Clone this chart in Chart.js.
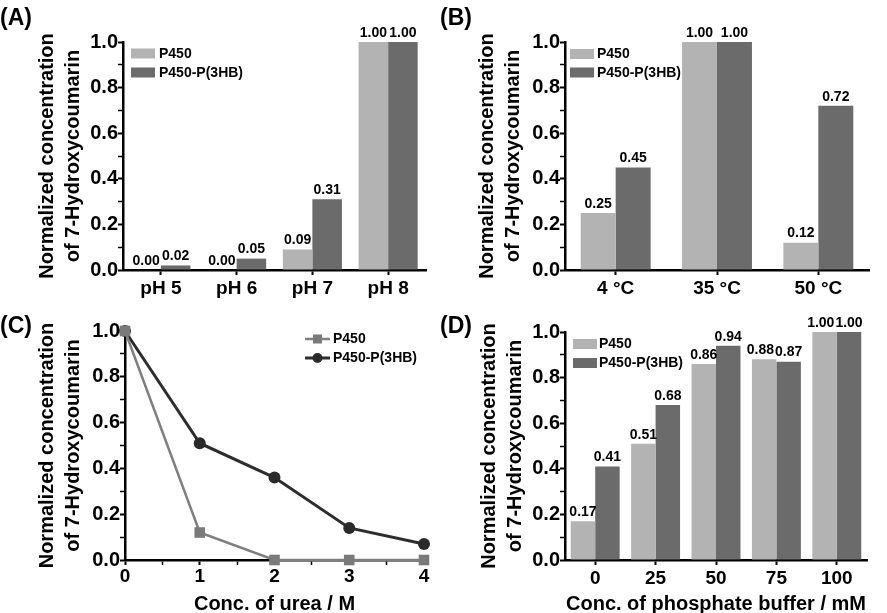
<!DOCTYPE html>
<html><head><meta charset="utf-8">
<script src="https://cdn.jsdelivr.net/npm/chart.js@4.4.1/dist/chart.umd.min.js"></script>
<style>
html,body{margin:0;padding:0;background:#fff;overflow:hidden;}
#wrap{position:relative;width:887px;height:613px;overflow:hidden;background:#fff;}
canvas{position:absolute;}
.lbl{position:absolute;font:bold 23px "Liberation Sans",Arial,sans-serif;line-height:23px;color:#000;white-space:nowrap;}
</style></head><body>
<div id="wrap">
<canvas id="cA" width="443" height="306" style="left:0;top:0"></canvas>
<canvas id="cB" width="444" height="306" style="left:443px;top:0"></canvas>
<canvas id="cC" width="443" height="310" style="left:0;top:306px"></canvas>
<canvas id="cD" width="444" height="310" style="left:443px;top:306px"></canvas>
<div class="lbl" style="left:0;top:6px">(A)</div>
<div class="lbl" style="left:440px;top:6px">(B)</div>
<div class="lbl" style="left:0;top:314px">(C)</div>
<div class="lbl" style="left:440px;top:314px">(D)</div>
</div>
<script>
// ---- data ----
const phCategories = ['pH 5', 'pH 6', 'pH 7', 'pH 8'];
const phP450 = [0.00, 0.00, 0.09, 1.00];
const phP3HB = [0.02, 0.05, 0.31, 1.00];

const tempCategories = ['4 °C', '35 °C', '50 °C'];
const tempP450 = [0.25, 1.00, 0.12];
const tempP3HB = [0.45, 1.00, 0.72];

const ureaConc = [0, 1, 2, 3, 4];
const ureaP450 = [1.00, 0.12, 0.00, 0.00, 0.00];
const ureaP3HB = [1.00, 0.51, 0.36, 0.14, 0.07];

const bufferCategories = ['0', '25', '50', '75', '100'];
const bufferP450 = [0.17, 0.51, 0.86, 0.88, 1.00];
const bufferP3HB = [0.41, 0.68, 0.94, 0.87, 1.00];

const seriesNames = ['P450', 'P450-P(3HB)'];
const yTitle = ['Normalized concentration', 'of 7-Hydroxycoumarin'];
const ureaTitle = 'Conc. of urea / M';
const bufferTitle = 'Conc. of phosphate buffer / mM';

// ---- styling ----
const FF = "'Liberation Sans', Arial, Helvetica, sans-serif";
const LIGHT = '#b3b3b3';
const DARK = '#6b6b6b';
const LINE1 = '#7f7f7f';
const LINE2 = '#2d2d2d';

const valueLabels = {
  id: 'valueLabels',
  afterDatasetsDraw(chart, args, opts) {
    const ctx = chart.ctx;
    ctx.save();
    ctx.font = 'bold ' + (opts.size || 14) + 'px ' + FF;
    ctx.fillStyle = '#000';
    ctx.textAlign = 'center';
    ctx.textBaseline = 'bottom';
    const m0 = chart.getDatasetMeta(0), m1 = chart.getDatasetMeta(1);
    const d0 = chart.data.datasets[0].data, d1 = chart.data.datasets[1].data;
    m0.data.forEach((el0, i) => {
      const el1 = m1.data[i];
      const t0 = d0[i].toFixed(2), t1 = d1[i].toFixed(2);
      const w0 = ctx.measureText(t0).width, w1 = ctx.measureText(t1).width;
      let x0 = el0.x;
      const x1 = el1.x;
      const overlap = (x0 + w0 / 2) - (x1 - w1 / 2) + 1;
      if (overlap > 0 && Math.abs(el0.y - el1.y) < 14) x0 -= overlap;
      ctx.fillText(t0, x0, el0.y - 2);
      ctx.fillText(t1, x1, el1.y - 2);
    });
    ctx.restore();
  }
};

const panelLegend = {
  id: 'panelLegend',
  afterDraw(chart, args, opts) {
    const ctx = chart.ctx;
    const ca = chart.chartArea;
    ctx.save();
    ctx.font = 'bold 14px ' + FF;
    ctx.textBaseline = 'middle';
    ctx.textAlign = 'left';
    chart.data.datasets.forEach((ds, i) => {
      const x = ca.left + opts.dx;
      const y = ca.top + opts.dy + i * opts.gap;
      if (opts.kind === 'line') {
        ctx.strokeStyle = ds.borderColor;
        ctx.lineWidth = ds.borderWidth;
        ctx.beginPath(); ctx.moveTo(x, y); ctx.lineTo(x + 25, y); ctx.stroke();
        ctx.fillStyle = ds.pointBackgroundColor;
        if (ds.pointStyle === 'rect') {
          ctx.fillRect(x + 12.5 - 4.5, y - 4.5, 9, 9);
        } else {
          ctx.beginPath(); ctx.arc(x + 12.5, y, 5, 0, Math.PI * 2); ctx.fill();
        }
      } else {
        ctx.fillStyle = ds.backgroundColor;
        ctx.fillRect(x, y - 5, 24, 10);
      }
      ctx.fillStyle = '#000';
      ctx.fillText(ds.label, x + opts.textDx, y + 0.5);
    });
    ctx.restore();
  }
};

function isMajor(v) { return Math.round(v * 10) % 2 === 0; }

function yScale(width, titlePad) {
  return {
    min: 0, max: 1,
    afterFit: s => { s.width = width; },
    border: { display: true, color: '#000', width: 2.5 },
    grid: { drawOnChartArea: false, drawTicks: true, tickLength: 5, color: '#000',
            tickWidth: c => (c.tick && isMajor(c.tick.value)) ? 2 : 1.5 },
    ticks: { stepSize: 0.1, autoSkip: false, padding: 0, color: '#000',
             font: { family: FF, size: 20, weight: 'bold' },
             callback: v => isMajor(v) ? (Math.round(v * 10) / 10).toFixed(1) : '' },
    title: { display: true, text: yTitle, color: '#000',
             font: { family: FF, size: 20, weight: 'bold', lineHeight: 1.3 },
             padding: { top: titlePad, bottom: 0 } }
  };
}

function xCat(height, pad, title) {
  return {
    type: 'category',
    offset: true,
    afterFit: s => { s.height = height; },
    border: { display: true, color: '#000', width: 2.5 },
    grid: { offset: false, drawOnChartArea: false, drawTicks: true, tickLength: 5, color: '#000', tickWidth: 2 },
    ticks: { padding: pad, color: '#000', autoSkip: false, maxRotation: 0,
             font: { family: FF, size: 19, weight: 'bold' } },
    title: title ? { display: true, text: title, color: '#000',
             font: { family: FF, size: 20, weight: 'bold', lineHeight: 1.2 },
             padding: { top: 0, bottom: 0 } } : { display: false }
  };
}

function barChart(id, cats, a, b, pad, yW, xH, titlePad, catPct, legendOpts, xTitle, tickPad, labelSize) {
  return new Chart(document.getElementById(id), {
    type: 'bar',
    data: {
      labels: cats,
      datasets: [
        { label: seriesNames[0], data: a, backgroundColor: LIGHT, borderWidth: 0,
          barPercentage: 1, categoryPercentage: catPct },
        { label: seriesNames[1], data: b, backgroundColor: DARK, borderWidth: 0,
          barPercentage: 1, categoryPercentage: catPct }
      ]
    },
    options: {
      responsive: false, animation: false, devicePixelRatio: 1,
      layout: { padding: pad },
      plugins: { legend: { display: false }, tooltip: { enabled: false },
                 panelLegend: legendOpts, valueLabels: { size: labelSize } },
      scales: { x: xCat(xH, tickPad, xTitle), y: yScale(yW, titlePad) }
    },
    plugins: [valueLabels, panelLegend]
  });
}

barChart('cA', phCategories, phP450, phP3HB,
  { left: 0, top: 42, right: 17, bottom: 0 }, 123, 36, 34, 0.78,
  { kind: 'box', dx: 8, dy: 11.5, gap: 19, textDx: 28 }, null, 2, 14);

barChart('cB', tempCategories, tempP450, tempP3HB,
  { left: 0, top: 42, right: 18, bottom: 0 }, 122, 36, 31, 0.69,
  { kind: 'box', dx: 5, dy: 12, gap: 18.5, textDx: 27 }, null, 2, 14);

barChart('cD', bufferCategories, bufferP450, bufferP3HB,
  { left: 0, top: 26, right: 20, bottom: 0 }, 122, 56, 33, 0.81,
  { kind: 'box', dx: 8, dy: 12, gap: 19, textDx: 26 }, bufferTitle, 2, 14);

new Chart(document.getElementById('cC'), {
  type: 'line',
  data: {
    labels: ureaConc,
    datasets: [
      { label: seriesNames[0], data: ureaConc.map((x, i) => ({ x: x, y: ureaP450[i] })),
        borderColor: LINE1, backgroundColor: LINE1, borderWidth: 2.5,
        pointStyle: 'rect', pointRadius: 7.5, pointBackgroundColor: '#7a7a7a',
        pointBorderWidth: 0, clip: false, tension: 0 },
      { label: seriesNames[1], data: ureaConc.map((x, i) => ({ x: x, y: ureaP3HB[i] })),
        borderColor: LINE2, backgroundColor: LINE2, borderWidth: 3,
        pointStyle: 'circle', pointRadius: 6, pointBackgroundColor: '#2a2a2a',
        pointBorderWidth: 0, clip: false, tension: 0 }
    ]
  },
  options: {
    responsive: false, animation: false, devicePixelRatio: 1,
    layout: { padding: { left: 0, top: 25, right: 19, bottom: 0 } },
    plugins: { legend: { display: false }, tooltip: { enabled: false },
               panelLegend: { kind: 'line', dx: 180, dy: 8, gap: 19, textDx: 28 } },
    scales: {
      x: {
        type: 'linear', min: 0, max: 4,
        afterFit: s => { s.height = 56; },
        border: { display: true, color: '#000', width: 2.5 },
        grid: { drawOnChartArea: false, drawTicks: true, tickLength: 5, color: '#000',
                tickWidth: c => (c.tick && Number.isInteger(c.tick.value)) ? 2 : 1.5 },
        ticks: { stepSize: 0.5, autoSkip: false, padding: 0, color: '#000', maxRotation: 0,
                 font: { family: FF, size: 19, weight: 'bold' },
                 callback: v => Number.isInteger(v) ? String(v) : '' },
        title: { display: true, text: ureaTitle, color: '#000',
                 font: { family: FF, size: 20, weight: 'bold', lineHeight: 1.2 },
                 padding: { top: 0, bottom: 0 } }
      },
      y: yScale(125, 34)
    }
  },
  plugins: [panelLegend]
});
</script>
</body></html>
